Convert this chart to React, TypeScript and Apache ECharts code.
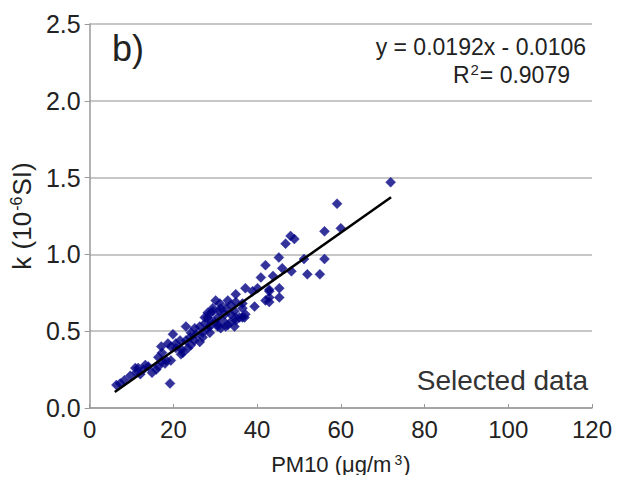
import React, { useEffect, useRef } from "react";
import * as echarts from "echarts";

const pm10 = [
  6.4, 7.3, 8.3, 19.2, 9.7, 11.1, 12.1, 11.6, 13.3, 12.8, 10.9, 14.9, 16.4, 17.1, 18.3, 19.4, 18.0, 15.9, 16.4,
  17.1, 17.3, 18.7, 19.9, 19.4, 20.6, 21.6, 22.3, 21.8, 20.6, 23.0, 24.0, 24.2, 23.0, 25.1, 25.4, 24.2, 26.3,
  27.0, 27.0, 26.3, 27.5, 28.2, 28.9, 29.4, 30.1, 31.1, 31.3, 32.3, 30.6, 29.9, 28.7, 28.7, 30.6, 31.3, 33.0,
  33.0, 33.7, 32.5, 29.4, 31.0, 28.2, 34.6, 33.7, 36.5, 37.2, 37.0, 34.9, 28.7, 27.5, 31.8, 33.7, 30.6, 32.5,
  34.6, 28.2, 35.8, 36.5, 34.9, 34.9, 38.9, 42.9, 45.3, 42.9, 45.3, 42.0, 39.4, 36.5, 34.9, 37.2, 40.1, 42.0,
  46.0, 48.2, 52.0, 55.0, 40.9, 43.8, 45.2, 51.2, 56.1, 46.8, 48.0, 48.9, 56.1, 60.0, 59.1, 71.9, 42.9, 42.9,
  22.0, 23.5, 25.0, 14.0,
];
const kValues = [
  0.15, 0.16, 0.18, 0.16, 0.21, 0.23, 0.22, 0.26, 0.28, 0.25, 0.26, 0.23, 0.27, 0.30, 0.31, 0.31, 0.29, 0.25, 0.33,
  0.40, 0.36, 0.42, 0.48, 0.40, 0.42, 0.44, 0.36, 0.35, 0.39, 0.44, 0.46, 0.49, 0.53, 0.52, 0.48, 0.41, 0.43,
  0.46, 0.49, 0.53, 0.55, 0.59, 0.62, 0.65, 0.70, 0.68, 0.65, 0.61, 0.59, 0.56, 0.53, 0.49, 0.53, 0.52, 0.54,
  0.70, 0.67, 0.65, 0.63, 0.63, 0.62, 0.63, 0.61, 0.65, 0.61, 0.59, 0.59, 0.57, 0.59, 0.57, 0.56, 0.54, 0.53,
  0.53, 0.52, 0.59, 0.59, 0.57, 0.74, 0.76, 0.76, 0.78, 0.69, 0.72, 0.70, 0.66, 0.68, 0.69, 0.78, 0.78, 0.93,
  0.91, 0.89, 0.87, 0.87, 0.85, 0.86, 0.98, 0.97, 0.97, 1.07, 1.12, 1.10, 1.15, 1.17, 1.33, 1.47, 0.77, 0.72,
  0.38, 0.39, 0.44, 0.27,
];
const trendX = [6, 72];
const slope = 0.0192;
const intercept = -0.0106;
const xTicks = { min: 0, max: 120, interval: 20 };
const yTicks = { min: 0, max: 2.5, interval: 0.5 };

const FONT = "'Liberation Sans', Arial, sans-serif";
const TXT = "#222";

export default function App() {
  const ref = useRef<HTMLDivElement>(null);
  useEffect(() => {
    if (!ref.current) return;
    const chart = echarts.init(ref.current, undefined, { renderer: "svg" });
    const points = pm10.map((x, i) => [x, kValues[i]]);
    const trend = trendX.map((x) => [x, slope * x + intercept]);
    chart.setOption({
      animation: false,
      backgroundColor: "#fff",
      textStyle: { fontFamily: FONT },
      grid: { left: 86, right: 32, top: 24, bottom: 75 },
      xAxis: {
        type: "value",
        ...xTicks,
        name: "{a|PM10 (μg/m}{s|3}{a|)}",
        nameLocation: "middle",
        nameGap: 45,
        nameTextStyle: {
          rich: {
            a: { fontSize: 22, color: TXT, fontFamily: FONT },
            s: { fontSize: 14, color: TXT, fontFamily: FONT, verticalAlign: "top", padding: [0, 1, 8, 3] },
          },
        },
        axisLine: { show: true, lineStyle: { color: "#999", width: 1.5 } },
        axisTick: { show: true, inside: true, length: 4, lineStyle: { color: "#999" } },
        splitLine: { show: false },
        axisLabel: { fontSize: 24, color: TXT, margin: 9, fontFamily: FONT },
      },
      yAxis: {
        type: "value",
        ...yTicks,
        name: "{a|k (10}{s|-6}{a|SI)}",
        nameLocation: "middle",
        nameRotate: 90,
        nameGap: 51,
        nameTextStyle: {
          rich: {
            a: { fontSize: 26, color: TXT, fontFamily: FONT },
            s: { fontSize: 16, color: TXT, fontFamily: FONT, verticalAlign: "top", padding: [0, 1, 12, 1] },
          },
        },
        axisLine: { show: true, lineStyle: { color: "#999", width: 1.5 } },
        axisTick: { show: true, inside: false, length: 5, lineStyle: { color: "#999" } },
        splitLine: { show: true, lineStyle: { color: "#b4b4b4", width: 1.5 } },
        axisLabel: {
          fontSize: 25,
          color: TXT,
          margin: 9,
          fontFamily: FONT,
          formatter: (v: number) => v.toFixed(1),
        },
      },
      series: [
        {
          type: "scatter",
          data: points,
          symbol: "diamond",
          symbolSize: 10,
          itemStyle: { color: "#000080", borderColor: "#1a1aa0", borderWidth: 0.5 },
          z: 2,
        },
        {
          type: "line",
          data: trend,
          showSymbol: false,
          symbol: "none",
          lineStyle: { color: "#000", width: 2.5 },
          z: 3,
        },
      ],
      graphic: [
        {
          type: "text",
          left: 112,
          top: 30,
          style: { text: "b)", fontSize: 36, fill: TXT, fontFamily: FONT },
        },
        {
          type: "text",
          right: 38,
          top: 35,
          style: { text: "y = 0.0192x - 0.0106", fontSize: 23, fill: TXT, fontFamily: FONT },
        },
        {
          type: "text",
          right: 54,
          top: 62,
          style: {
            text: "{a|R}{s|2}{a|= 0.9079}",
            fontFamily: FONT,
            rich: {
              a: { fontSize: 23, fill: TXT, fontFamily: FONT },
              s: { fontSize: 15, fill: TXT, fontFamily: FONT, verticalAlign: "top", padding: [0, 1, 10, 1] },
            },
          },
        },
        {
          type: "text",
          right: 36,
          top: 366,
          style: { text: "Selected data", fontSize: 28, fill: "#333", fontFamily: FONT },
        },
      ],
    });
    return () => chart.dispose();
  }, []);
  return <div ref={ref} style={{ width: 624, height: 483, margin: -8 }} />;
}
